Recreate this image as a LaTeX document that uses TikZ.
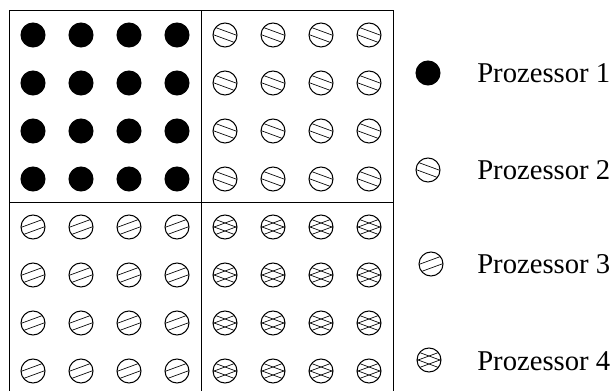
\documentclass[tikz,border=0pt]{standalone}
\usepackage{fontspec}
\setmainfont{Liberation Serif}
% #1 = slope sign: 1 falls to the right, -1 rises to the right
\newcommand\hatchlines[1]{\draw[line width=0.5pt, shift={(path picture bounding box.center)}]
  (-15,{-4-5.5*#1}) -- (15,{-4+5.5*#1}) (-15,{4-5.5*#1}) -- (15,{4+5.5*#1});}
\begin{document}
\begin{tikzpicture}[x=0.75pt, y=-0.75pt,
    every node/.style={font=\fontsize{21.5}{25}\selectfont},
    dot/.style={circle, inner sep=0pt, minimum size=18pt, draw, line width=0.75pt},
    proc1/.style={dot, fill=black},
    proc2/.style={dot, path picture={\hatchlines{1}}},
    proc3/.style={dot, path picture={\hatchlines{-1}}},
    proc4/.style={dot, path picture={\hatchlines{1}\hatchlines{-1}}},
    label/.style={anchor=base west, inner sep=0pt},
    grid/.style={line width=0.75pt}
  ]
  \useasboundingbox (0,0) rectangle (613,391);

  % quadrants
  \draw[grid] (9,11) rectangle (393,395);
  \draw[grid] (201,11) -- (201,395);
  \draw[grid] (9,203) -- (393,203);

  \foreach \i in {0,...,3}
    \foreach \j in {0,...,3} {
      \node[proc1] (a-\i-\j) at ({33+48*\j},{35+48*\i}) {};
      \node[proc2] (b-\i-\j) at ({225+48*\j},{35+48*\i}) {};
      \node[proc3] (c-\i-\j) at ({33+48*\j},{227+48*\i}) {};
      \node[proc4] (d-\i-\j) at ({225+48*\j},{227+48*\i}) {};
    }

  % legend
  \node[proc1] (l1) at (428,73) {};
  \node[proc2] (l2) at (428,170) {};
  \node[proc3] (l3) at (431,264) {};
  \node[proc4] (l4) at (429,360) {};
  \node[label] (t1) at (477,83) {Prozessor 1};
  \node[label] (t2) at (477,180) {Prozessor 2};
  \node[label] (t3) at (477,273) {Prozessor 3};
  \node[label] (t4) at (477,370) {Prozessor 4};
\end{tikzpicture}
\end{document}
